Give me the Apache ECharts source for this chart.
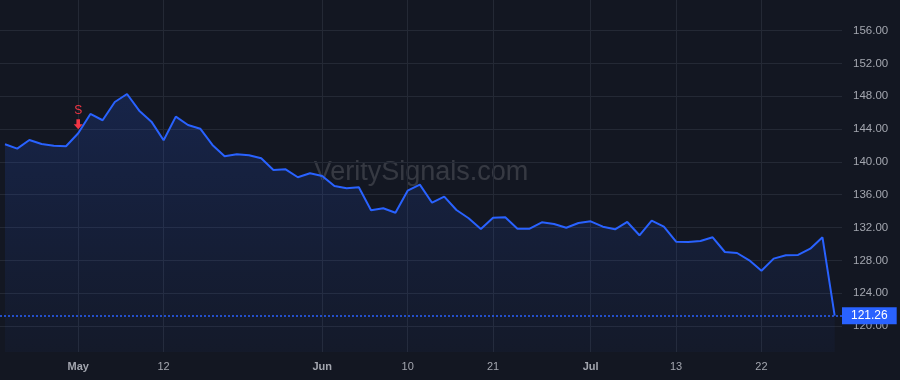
<!DOCTYPE html>
<html>
<head>
<meta charset="utf-8">
<script src="https://cdn.jsdelivr.net/npm/echarts@6/dist/echarts.min.js"></script>
<style>
html,body{margin:0;padding:0;background:#131722;}
#chart{width:900px;height:380px;}
</style>
</head>
<body>
<div id="chart"></div>
<script>
// ---- data ----
const prices = [
  142.15, 141.62, 142.68, 142.19, 141.98, 141.91, 143.49, 145.85, 145.08, 147.31,
  148.28, 146.25, 144.91, 142.64, 145.52, 144.50, 144.05, 142.07, 140.69, 140.93,
  140.81, 140.44, 139.02, 139.10, 138.13, 138.62, 138.29, 137.07, 136.79, 136.91,
  134.10, 134.35, 133.81, 136.50, 137.23, 135.03, 135.77, 134.14, 133.13, 131.83,
  133.20, 133.25, 131.86, 131.86, 132.64, 132.44, 131.97, 132.56, 132.76, 132.11,
  131.79, 132.68, 131.06, 132.84, 132.11, 130.28, 130.24, 130.36, 130.81, 129.02,
  128.90, 128.01, 126.74, 128.21, 128.62, 128.66, 129.42, 130.81, 121.26
];
const xTickIndex = [6, 13, 26, 33, 40, 48, 55, 62];
const xTickLabels = ['May', '12', 'Jun', '10', '21', 'Jul', '13', '22'];
const monthLabels = ['May', 'Jun', 'Jul'];
const yTicks = [120, 124, 128, 132, 136, 140, 144, 148, 152, 156];
const lastPrice = 121.26;
const signalIndex = 6;
const signalLabel = 'S';
const watermark = 'VeritySignals.com';

// ---- chart ----
const chart = echarts.init(document.getElementById('chart'), null, {renderer: 'canvas'});
const FONT = '"Liberation Sans", Arial, sans-serif';
const gridColor = '#242935';
const labelColor = '#a3a6af';
const blue = '#2962ff';

const seriesData = prices.map((v, i) => [i, v]);

const option = {
  backgroundColor: '#131722',
  animation: false,
  grid: {left: 0, right: 58, top: 0, bottom: 28, containLabel: false},
  graphic: [{
    type: 'text',
    x: 421, y: 173, z: 0,
    style: {
      text: watermark,
      fill: 'rgba(255,255,255,0.15)',
      font: '27px ' + FONT,
      textAlign: 'center',
      textVerticalAlign: 'middle'
    }
  }],
  xAxis: {
    type: 'value',
    min: -0.41,
    max: 68.6,
    axisLine: {show: false},
    axisTick: {show: false, customValues: xTickIndex},
    splitLine: {show: true, lineStyle: {color: gridColor, width: 1}},
    axisLabel: {
      customValues: xTickIndex,
      margin: 9,
      color: labelColor,
      fontSize: 11,
      fontFamily: FONT,
      formatter: function (v) {
        const k = xTickIndex.indexOf(Math.round(v));
        if (k < 0) return '';
        const t = xTickLabels[k];
        return monthLabels.indexOf(t) >= 0 ? '{m|' + t + '}' : t;
      },
      rich: {
        m: {fontWeight: 'bold', color: labelColor, fontSize: 11, fontFamily: FONT}
      }
    }
  },
  yAxis: {
    type: 'value',
    position: 'right',
    min: 116.83,
    max: 159.74,
    axisLine: {show: false},
    axisTick: {show: false, customValues: yTicks},
    splitLine: {show: true, lineStyle: {color: gridColor, width: 1}},
    axisLabel: {
      customValues: yTicks,
      margin: 11,
      color: labelColor,
      fontSize: 11.5,
      fontFamily: FONT,
      formatter: v => Number(v).toFixed(2)
    }
  },
  series: [{
    type: 'line',
    data: seriesData,
    symbol: 'none',
    z: 3,
    lineStyle: {color: blue, width: 2},
    areaStyle: {
      color: new echarts.graphic.LinearGradient(0, 0, 0, 1, [
        {offset: 0, color: 'rgba(41,98,255,0.25)'},
        {offset: 1, color: 'rgba(41,98,255,0.05)'}
      ])
    },
    markLine: {
      silent: true,
      symbol: 'none',
      z: 4,
      itemStyle: {color: blue},
      lineStyle: {color: blue, type: [2, 2], width: 1.5, opacity: 1},
      emphasis: {disabled: true},
      label: {
        show: true,
        position: 'end',
        distance: 0,
        formatter: () => lastPrice.toFixed(2),
        color: '#ffffff',
        backgroundColor: blue,
        padding: [3, 9, 2, 9],
        fontSize: 12,
        fontFamily: FONT
      },
      data: [{yAxis: lastPrice, lineStyle: {color: blue, type: [2, 2], width: 1.5}}]
    },
    markPoint: {
      silent: true,
      data: [{
        coord: [signalIndex, prices[signalIndex]],
        symbol: 'path://M3,0 L7,0 L7,6 L10,6 L5,12 L0,6 L3,6 Z',
        symbolSize: [9, 10],
        symbolOffset: [0, -9],
        itemStyle: {color: '#f23645'},
        label: {
          show: true,
          position: 'top',
          distance: 3,
          formatter: signalLabel,
          color: '#f23645',
          fontSize: 12,
          fontFamily: FONT
        }
      }]
    }
  }]
};
chart.setOption(option);
</script>
</body>
</html>
